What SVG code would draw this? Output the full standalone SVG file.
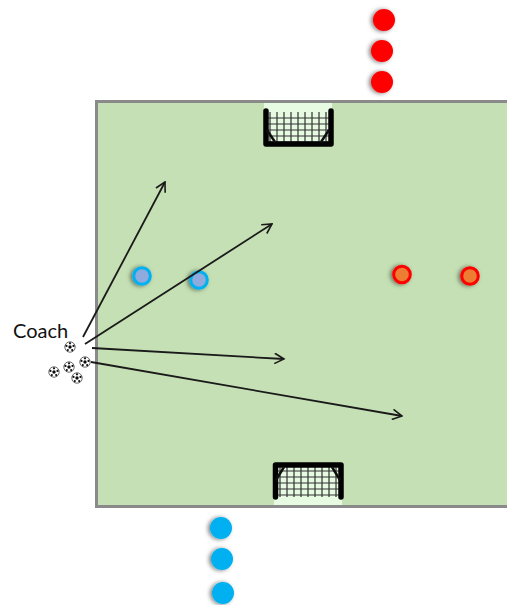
<svg xmlns="http://www.w3.org/2000/svg" xmlns:xlink="http://www.w3.org/1999/xlink" width="507" height="605" viewBox="0 0 507 605">
<style>
.arrow{fill:none;stroke:#1a1a1a;stroke-width:1.8;marker-end:url(#open)}
.red{fill:#fe0000}.blue{fill:#00b0f0}
.pr{fill:#ed7d31;stroke:#fe0000;stroke-width:3}
.pb{fill:#8faadc;stroke:#00b0f0;stroke-width:3}
.net{stroke:#333;stroke-width:1.2;fill:none}
.frame{fill:none;stroke:#050505;stroke-width:5.5;stroke-linejoin:round;stroke-linecap:round}
text{font-family:Lato,"Liberation Sans",sans-serif;font-size:20px;fill:#111}
</style>
<defs>
<marker id="open" viewBox="0 0 12 12" refX="10.5" refY="6" markerWidth="12" markerHeight="12" markerUnits="userSpaceOnUse" orient="auto"><path d="M1 .8 10.5 6 1 11.2" fill="none" stroke="#1a1a1a" stroke-width="1.6"/></marker>
<filter id="sh" x="-50%" y="-50%" width="200%" height="200%"><feDropShadow dx="-2" dy="0.5" stdDeviation="2" flood-color="#000" flood-opacity="0.5"/></filter>
<filter id="soft" x="-10%" y="-10%" width="120%" height="120%"><feGaussianBlur stdDeviation="0.5"/></filter>
<g id="ball"><circle r="5.200" fill="#fff" stroke="#444" stroke-width="0.8"/><circle r="1.700" fill="#111"/><circle cx="0" cy="-3.700" r="1.100" fill="#111"/><circle cx="3.500" cy="-1.100" r="1.100" fill="#111"/><circle cx="-3.500" cy="-1.100" r="1.100" fill="#111"/><circle cx="2.200" cy="3.100" r="1.100" fill="#111"/><circle cx="-2.200" cy="3.100" r="1.100" fill="#111"/></g>
<g id="net" class="net"><path d="M7 2V34M14 2V34M21 2V34M28 2V34M35 2V34M42 2V34M49 2V34M56 2V34M63 2V34M4 8H66M4 14H66M4 20H66M4 26H66M4 32H66"/></g>
</defs>
<g id="field"><rect x="96.500" y="101.500" width="412" height="405" fill="#c5e0b4" stroke="#8a8a8a" stroke-width="3"/></g>
<g id="goal-top" filter="url(#soft)">
<rect x="264" y="103" width="68" height="12" fill="#e6fbe2"/>
<rect x="266" y="114" width="64" height="30" fill="#e6fbe2"/>
<use href="#net" x="263" y="110"/>
<path class="frame" d="M266 111V144H331V111"/>
<path d="M267 130 275 142M329 130 321 142" stroke="#111" stroke-width="2.500" fill="none"/>
</g>
<g id="goal-bottom" filter="url(#soft)">
<rect x="274" y="495" width="68" height="10" fill="#e6fbe2"/>
<rect x="276" y="465" width="64" height="32" fill="#e6fbe2"/>
<use href="#net" x="273" y="463"/>
<path class="frame" d="M275.500 497V465H341V497"/>
<path d="M276 480 284 467M340 480 332 467" stroke="#111" stroke-width="2.500" fill="none"/>
</g>
<g id="coach"><text x="13" y="338">Coach</text></g>
<g id="balls" filter="url(#soft)">
<use id="ball-1" href="#ball" x="70" y="347"/>
<use id="ball-2" href="#ball" x="85" y="362"/>
<use id="ball-3" href="#ball" x="69" y="367"/>
<use id="ball-4" href="#ball" x="54" y="372"/>
<use id="ball-5" href="#ball" x="77" y="378"/>
</g>
<g id="players-field" filter="url(#sh)">
<circle id="blue-1" class="pb" cx="142" cy="276" r="8.300"/>
<circle id="blue-2" class="pb" cx="199" cy="280" r="8.300"/>
<circle id="red-1" class="pr" cx="402" cy="274.500" r="8.300"/>
<circle id="red-2" class="pr" cx="470" cy="276" r="8.300"/>
</g>
<g id="players-red" filter="url(#sh)">
<circle id="red-3" class="red" cx="384" cy="20" r="11"/>
<circle id="red-4" class="red" cx="382" cy="51" r="11"/>
<circle id="red-5" class="red" cx="382" cy="82" r="11"/>
</g>
<g id="players-blue" filter="url(#sh)">
<circle id="blue-3" class="blue" cx="221" cy="528" r="11"/>
<circle id="blue-4" class="blue" cx="222" cy="559" r="11"/>
<circle id="blue-5" class="blue" cx="223" cy="593" r="11"/>
</g>
<g id="connectors">
<line class="arrow" x1="83" y1="337" x2="165" y2="182"/>
<line class="arrow" x1="85" y1="344" x2="272" y2="224"/>
<line class="arrow" x1="92" y1="348" x2="284" y2="359"/>
<line class="arrow" x1="91" y1="362" x2="402" y2="416"/>
</g>
</svg>
